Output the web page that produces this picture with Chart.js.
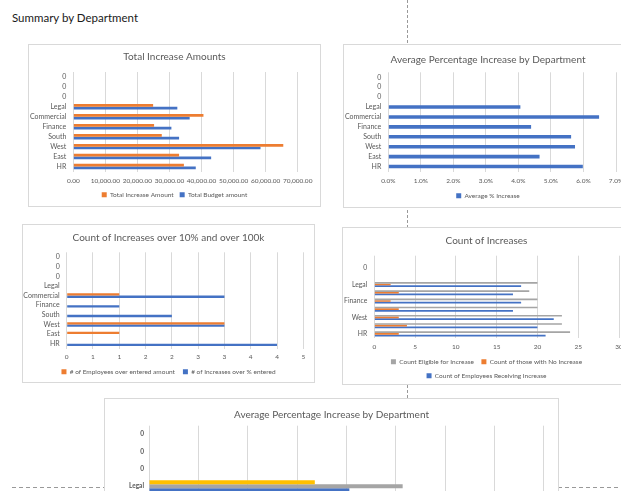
<!DOCTYPE html>
<html lang="en">
<head>
<meta charset="UTF-8">
<title>Summary by Department</title>
<script src="https://cdn.jsdelivr.net/npm/chart.js"></script>
<style>
  html, body { margin: 0; padding: 0; background: #fff; }
  body { width: 621px; height: 491px; position: relative; overflow: hidden; font-family: Lato, sans-serif; }
  .sheet-title { position: absolute; left: 12px; top: 11px; font-size: 11.5px; line-height: 14px; color: #1a1a1a; }
  .box { position: absolute; background: #fff; border: 1px solid #d9d9d9; box-sizing: border-box; overflow: hidden; }
  .box canvas { position: absolute; left: -1px; top: -1px; }
  .vbreak { position: absolute; left: 407px; top: 0; width: 1px; height: 491px;
            background: repeating-linear-gradient(to bottom, #999 0 3px, transparent 3px 5px); }
  .hbreak { position: absolute; left: 12px; top: 487px; width: 609px; height: 1px;
            background: repeating-linear-gradient(to right, #999 0 4px, transparent 4px 7px); }
</style>
</head>
<body>
  <div class="sheet-title">Summary by Department</div>
  <div class="vbreak"></div>
  <div class="hbreak"></div>

  <div class="box" style="left:28px; top:44px; width:293px; height:163px;"><canvas id="totalChart"></canvas></div>
  <div class="box" style="left:343px; top:44px; width:290px; height:164px;"><canvas id="avgChart"></canvas></div>
  <div class="box" style="left:22px; top:224px; width:293px; height:159px;"><canvas id="overChart"></canvas></div>
  <div class="box" style="left:342px; top:227px; width:289px; height:158px;"><canvas id="countChart"></canvas></div>
  <div class="box" style="left:104px; top:398px; width:455px; height:237px;"><canvas id="avg2Chart"></canvas></div>

<script>
// categories, top to bottom as they appear on the sheet
const departments = ['0', '0', '0', 'Legal', 'Commercial', 'Finance', 'South', 'West', 'East', 'HR'];

// Total Increase Amounts
const totalIncrease = [null, null, null, 24900, 40600, 25200, 27600, 65500, 33000, 34500];
const totalBudget   = [null, null, null, 32450, 36300, 30600, 33000, 58400, 43000, 38200];

// Average Percentage Increase by Department (%)
const avgIncrease = [null, null, null, 4.06, 6.48, 4.39, 5.62, 5.74, 4.65, 5.98];

// Count of Increases over 10% and over 100k
const overAmount = [null, null, null, null, 1, null, null, 3, 1, null];
const overPct    = [null, null, null, null, 3, 1, 2, 3, null, 4];

// Count of Increases
const countEligible  = [null, null, null, 20, 19, 20, 20, 23, 23, 24];
const countNoInc     = [null, null, null, 2, 3, 2, 3, 3, 4, 3];
const countReceiving = [null, null, null, 18, 17, 18, 17, 22, 20, 21];

// bottom chart (only the Legal row is visible)
const minIncrease = [null, null, null, 3.36, null, null, null, null, null, null];
const maxIncrease = [null, null, null, 5.14, null, null, null, null, null, null];

const orange = '#ED7D31', blue = '#4472C4', grey = '#A5A5A5', yellow = '#FFC000';
const textGrey = '#595959', gridGrey = '#d9d9d9';

Chart.defaults.font.family = 'Lato, sans-serif';
Chart.defaults.color = textGrey;
Chart.defaults.animation = false;

function makeChart(id, g, datasets, xScale) {
    const canvas = document.getElementById(id);
    canvas.width = g.w;
    canvas.height = g.h;
    return new Chart(canvas, {
        type: 'bar',
        data: {
            labels: departments,
            datasets: datasets.map(d => ({
                label: d.label,
                data: d.data,
                backgroundColor: d.color,
                barPercentage: 1,
                categoryPercentage: g.cat
            }))
        },
        options: {
            indexAxis: 'y',
            responsive: false,
            layout: { padding: 0 },
            plugins: {
                title: {
                    display: true, text: g.title, color: textGrey,
                    font: { size: 10, weight: 'normal' },
                    padding: { top: g.tTop, bottom: g.tBottom }
                },
                legend: {
                    position: 'bottom',
                    labels: { boxWidth: 5, boxHeight: 5, padding: g.lPad, font: { size: 6.5 }, color: textGrey }
                },
                tooltip: { enabled: false }
            },
            scales: {
                x: {
                    min: xScale.min, max: xScale.max,
                    ticks: { stepSize: xScale.step, padding: g.tickPad, font: { size: 6.5 },
                             maxRotation: 0, minRotation: 0, autoSkip: false, callback: xScale.fmt },
                    grid: { color: gridGrey, drawTicks: false },
                    border: { display: false },
                    // room on the right of the plot, like the Excel plot area
                    afterFit: s => { s.height = g.axisH; s.paddingRight = g.right; }
                },
                y: {
                    grid: { display: false, drawTicks: false },
                    border: { display: false },
                    ticks: {
                        autoSkip: false, padding: g.yPad,
                        font: { size: g.yFont || 7, weight: g.yWeight || 'normal' },
                        callback: g.yFmt || function (v) { return this.getLabelForValue(v); }
                    },
                    afterFit: s => { s.width = g.left; }
                }
            }
        }
    });
}

makeChart('totalChart',
    { w: 293, h: 164, left: 45.3, right: 23.3, yPad: 7, cat: 0.55, title: 'Total Increase Amounts',
      tTop: 7, tBottom: 9, axisH: 14, tickPad: 6, lPad: 6 },
    [ { label: 'Total Increase Amount', data: totalIncrease, color: orange },
      { label: 'Total Budget amount', data: totalBudget, color: blue } ],
    { min: 0, max: 70000, step: 10000,
      fmt: v => v.toLocaleString('en-US', { minimumFractionDigits: 2, maximumFractionDigits: 2 }) });

makeChart('avgChart',
    { w: 290, h: 165, left: 45.3, right: 17, yPad: 7, cat: 0.36, title: 'Average Percentage Increase by Department',
      tTop: 10, tBottom: 6.3, axisH: 14, tickPad: 6, lPad: 7 },
    [ { label: 'Average % Increase', data: avgIncrease, color: blue } ],
    { min: 0, max: 7, step: 1, fmt: v => v.toFixed(1) + '%' });

makeChart('overChart',
    { w: 293, h: 161, left: 44.7, right: 11.7, yPad: 7, cat: 0.48, title: 'Count of Increases over 10% and over 100k',
      tTop: 7.3, tBottom: 9, axisH: 12, tickPad: 4.3, lPad: 8 },
    [ { label: '# of Employees over entered amount', data: overAmount, color: orange },
      { label: '# of Increases over % entered', data: overPct, color: blue } ],
    { min: 0, max: 4.5, step: 0.5, fmt: v => String(Math.round(v)) });

makeChart('countChart',
    { w: 289, h: 162, left: 32.3, right: 12, yPad: 7, cat: 0.61, title: 'Count of Increases',
      tTop: 7.7, tBottom: 9, axisH: 13, tickPad: 5, lPad: 7.5, yFont: 6.8,
      yFmt: function (v, i) { return i % 2 === 1 ? this.getLabelForValue(v) : ''; } },
    [ { label: 'Count Eligible for Increase', data: countEligible, color: grey },
      { label: 'Count of those with No Increase', data: countNoInc, color: orange },
      { label: 'Count of Employees Receiving Increase', data: countReceiving, color: blue } ],
    { min: 0, max: 30, step: 5, fmt: v => String(v) });

makeChart('avg2Chart',
    { w: 455, h: 237, left: 45, right: 15.2, yPad: 5, cat: 0.68, title: 'Average Percentage Increase by Department',
      tTop: 11, tBottom: 4.7, axisH: 14, tickPad: 6, lPad: 6, yFont: 6.5, yWeight: 'bold' },
    [ { label: 'Min % Increase', data: minIncrease, color: yellow },
      { label: 'Max % Increase', data: maxIncrease, color: grey },
      { label: 'Average % Increase', data: avgIncrease, color: blue } ],
    { min: 0, max: 8, step: 1, fmt: v => v.toFixed(1) + '%' });
</script>
</body>
</html>
